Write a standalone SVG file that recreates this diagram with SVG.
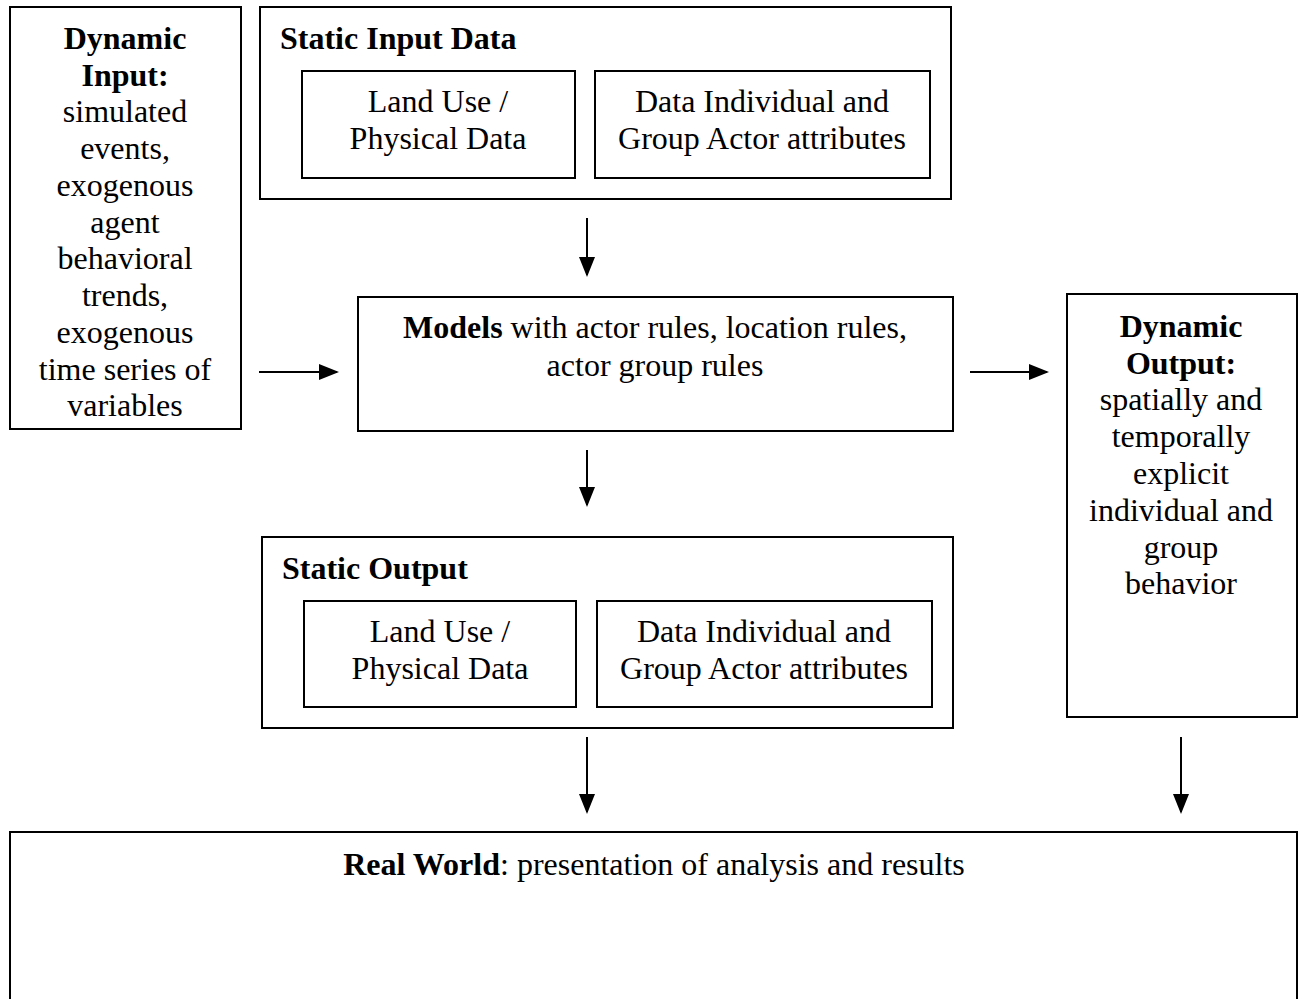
<svg xmlns="http://www.w3.org/2000/svg" width="1304" height="999" viewBox="0 0 1304 999">
<style>
rect{fill:none;stroke:#000;stroke-width:2}
text{font-family:"Liberation Serif","Times New Roman",serif;font-size:32px;fill:#000}
.c{text-anchor:middle}
.b{font-weight:bold}
line{stroke:#000;stroke-width:2}
</style>
<defs>
<marker id="ah" markerWidth="10" markerHeight="8" refX="9" refY="4" orient="auto" markerUnits="strokeWidth">
<path d="M0,0 L10,4 L0,8 z" fill="#000"/>
</marker>
</defs>
<rect x="0" y="0" width="1304" height="999" style="fill:#fff;stroke:none"/>
<g id="dynamic-input">
<rect x="10" y="7" width="231" height="422"/>
<text class="c" x="125"><tspan class="b" x="125" y="49">Dynamic</tspan><tspan class="b" x="125" y="86">Input:</tspan><tspan x="125" y="122">simulated</tspan><tspan x="125" y="159">events,</tspan><tspan x="125" y="196">exogenous</tspan><tspan x="125" y="233">agent</tspan><tspan x="125" y="269">behavioral</tspan><tspan x="125" y="306">trends,</tspan><tspan x="125" y="343">exogenous</tspan><tspan x="125" y="380">time series of</tspan><tspan x="125" y="416">variables</tspan></text>
</g>
<g id="static-input">
<rect x="260" y="7" width="691" height="192"/>
<text class="b" x="280" y="49">Static Input Data</text>
</g>
<g id="si-land">
<rect x="302" y="71" width="273" height="107"/>
<text class="c" x="438"><tspan x="438" y="112">Land Use /</tspan><tspan x="438" y="149">Physical Data</tspan></text>
</g>
<g id="si-actor">
<rect x="595" y="71" width="335" height="107"/>
<text class="c" x="762"><tspan x="762" y="112">Data Individual and</tspan><tspan x="762" y="149">Group Actor attributes</tspan></text>
</g>
<g id="models">
<rect x="358" y="297" width="595" height="134"/>
<text class="c" x="655" y="338"><tspan class="b">Models</tspan> with actor rules, location rules,</text>
<text class="c" x="655" y="376">actor group rules</text>
</g>
<g id="dynamic-output">
<rect x="1067" y="294" width="230" height="423"/>
<text class="c" x="1181"><tspan class="b" x="1181" y="337">Dynamic</tspan><tspan class="b" x="1181" y="374">Output:</tspan><tspan x="1181" y="410">spatially and</tspan><tspan x="1181" y="447">temporally</tspan><tspan x="1181" y="484">explicit</tspan><tspan x="1181" y="521">individual and</tspan><tspan x="1181" y="558">group</tspan><tspan x="1181" y="594">behavior</tspan></text>
</g>
<g id="static-output">
<rect x="262" y="537" width="691" height="191"/>
<text class="b" x="282" y="579">Static Output</text>
</g>
<g id="so-land">
<rect x="304" y="601" width="272" height="106"/>
<text class="c" x="440"><tspan x="440" y="642">Land Use /</tspan><tspan x="440" y="679">Physical Data</tspan></text>
</g>
<g id="so-actor">
<rect x="597" y="601" width="335" height="106"/>
<text class="c" x="764"><tspan x="764" y="642">Data Individual and</tspan><tspan x="764" y="679">Group Actor attributes</tspan></text>
</g>
<g id="real-world">
<rect x="10" y="832" width="1287" height="180"/>
<text class="c" x="654" y="875"><tspan class="b">Real World</tspan>: presentation of analysis and results</text>
</g>
<g id="connectors">
<line x1="587" y1="218" x2="587" y2="275" marker-end="url(#ah)"/>
<line x1="259" y1="372" x2="337" y2="372" marker-end="url(#ah)"/>
<line x1="970" y1="372" x2="1047" y2="372" marker-end="url(#ah)"/>
<line x1="587" y1="450" x2="587" y2="505" marker-end="url(#ah)"/>
<line x1="587" y1="737" x2="587" y2="812" marker-end="url(#ah)"/>
<line x1="1181" y1="737" x2="1181" y2="812" marker-end="url(#ah)"/>
</g>
</svg>
